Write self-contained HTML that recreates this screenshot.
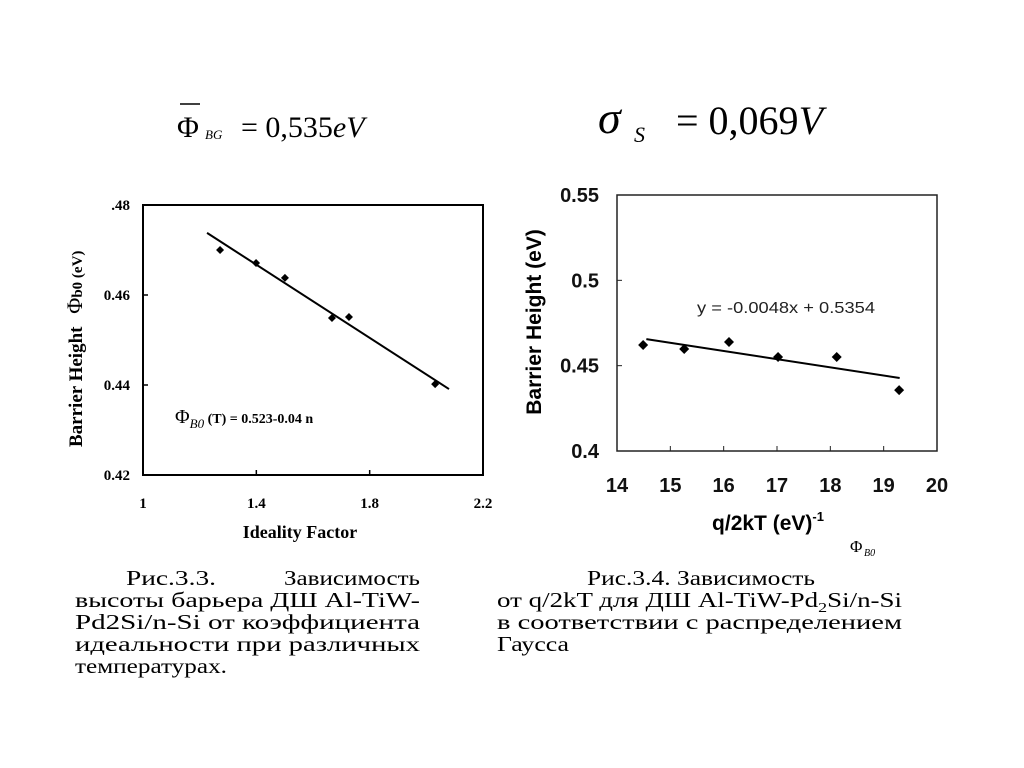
<!DOCTYPE html>
<html><head><meta charset="utf-8"><style>
html,body{margin:0;padding:0;background:#fff;width:1024px;height:768px;overflow:hidden}
svg{display:block}
</style></head><body>
<svg id="s" width="1024" height="768" xmlns="http://www.w3.org/2000/svg">
<g font-family="Liberation Serif, serif">
<line x1="180" y1="104" x2="200" y2="104" stroke="#000" stroke-width="1.5"/>
<text x="177" y="137" font-size="30">Φ</text>
<text x="205" y="139" font-size="13" font-style="italic">BG</text>
<text x="241" y="137" font-size="30">= 0,535<tspan font-style="italic">eV</tspan></text>
</g>
<g font-family="Liberation Serif, serif">
<text x="598" y="133" font-size="46" font-style="italic">σ</text>
<text x="634" y="142" font-size="22" font-style="italic">S</text>
<text x="676" y="134" font-size="40">= 0,069<tspan font-style="italic">V</tspan></text>
</g>
<g id="c1"></g>
<g id="c2"></g>
<g font-family="Liberation Serif, serif" font-size="21">
<text x="126" y="585" textLength="90" lengthAdjust="spacingAndGlyphs">Рис.3.3.</text>
<text x="284" y="585" textLength="136" lengthAdjust="spacingAndGlyphs">Зависимость</text>
<text x="75" y="607" textLength="345" lengthAdjust="spacingAndGlyphs">высоты барьера ДШ Al-TiW-</text>
<text x="75" y="629" textLength="345" lengthAdjust="spacingAndGlyphs">Pd2Si/n-Si    от коэффициента</text>
<text x="75" y="651" textLength="345" lengthAdjust="spacingAndGlyphs">идеальности при различных</text>
<text x="75" y="673" textLength="152" lengthAdjust="spacingAndGlyphs">температурах.</text>
</g>
<g font-family="Liberation Serif, serif" font-size="21">
<text x="587" y="585" textLength="228" lengthAdjust="spacingAndGlyphs">Рис.3.4. Зависимость</text>
<text x="497" y="607" textLength="405" lengthAdjust="spacingAndGlyphs">от  q/2kT для ДШ Al-TiW-Pd<tspan font-size="14" dy="5">2</tspan><tspan dy="-5">Si/n-Si</tspan></text>
<text x="497" y="629" textLength="405" lengthAdjust="spacingAndGlyphs">в  соответствии с распределением</text>
<text x="497" y="651" textLength="72" lengthAdjust="spacingAndGlyphs">Гаусса</text>
</g>
<g font-family="Liberation Serif, serif">
<text x="850" y="552" font-size="17">Φ</text><text x="864" y="556" font-size="10" font-style="italic">B0</text>
</g>
</svg>
<script>
// Chart 1 data
const c1X = [1.272, 1.399, 1.501, 1.667, 1.727, 2.031];
const c1Y = [0.4700, 0.4671, 0.4638, 0.4549, 0.4551, 0.4402];
const c1FitX = [1.226, 2.080];
const c1FitY = [0.4738, 0.4391];
const c1XTicks = [1, 1.4, 1.8, 2.2];
const c1XLabels = ["1", "1.4", "1.8", "2.2"];
const c1YTicks = [0.42, 0.44, 0.46, 0.48];
const c1YLabels = ["0.42", "0.44", "0.46", ".48"];
// Chart 2 data
const c2X = [14.49, 15.26, 16.10, 17.02, 18.12, 19.29];
const c2Y = [0.4621, 0.4598, 0.4639, 0.4551, 0.4551, 0.4357];
const c2Slope = -0.0048, c2Intercept = 0.5354;
const c2FitX = [14.55, 19.3];
const c2XTicks = [14, 15, 16, 17, 18, 19, 20];
const c2XLabels = ["14", "15", "16", "17", "18", "19", "20"];
const c2YTicks = [0.4, 0.45, 0.5, 0.55];
const c2YLabels = ["0.4", "0.45", "0.5", "0.55"];

const NS = "http://www.w3.org/2000/svg";
function mk(parent, tag, attrs, txt){
  const e = document.createElementNS(NS, tag);
  for (const k in attrs) e.setAttribute(k, attrs[k]);
  if (txt !== undefined) e.textContent = txt;
  parent.appendChild(e); return e;
}

// ---- Chart 1
(function(){
  const g = document.getElementById('c1');
  const L=143,R=483,T=205,B=475;
  const sx = v => L + (v-1)/(2.2-1)*(R-L);
  const sy = v => B - (v-0.42)/(0.48-0.42)*(B-T);
  const box = mk(g,'rect',{x:L,y:T,width:R-L,height:B-T,fill:'none',stroke:'#000','stroke-width':2});
  
  
  c1XTicks.forEach((v,i)=>{
    mk(g,'line',{x1:sx(v),x2:sx(v),y1:B,y2:B-5,stroke:'#000','stroke-width':1.5});
    const t = mk(g,'text',{x:sx(v),y:508,'text-anchor':'middle','font-size':15,'font-family':'Liberation Serif, serif','font-weight':'bold'},c1XLabels[i]);
    
    
  });
  c1YTicks.forEach((v,i)=>{
    mk(g,'line',{x1:L,x2:L+5,y1:sy(v),y2:sy(v),stroke:'#000','stroke-width':1.5});
    const t = mk(g,'text',{x:130,y:sy(v)+5,'text-anchor':'end','font-size':15,'font-family':'Liberation Serif, serif','font-weight':'bold'},c1YLabels[i]);
    
    
  });
  const fit = mk(g,'line',{x1:sx(c1FitX[0]),y1:sy(c1FitY[0]),x2:sx(c1FitX[1]),y2:sy(c1FitY[1]),stroke:'#000','stroke-width':2});
  
  
  c1X.forEach((x,i)=>{
    const cx=sx(x), cy=sy(c1Y[i]);
    const p = mk(g,'polygon',{points:`${cx},${cy-4} ${cx+4},${cy} ${cx},${cy+4} ${cx-4},${cy}`,fill:'#000'});
    
    
  });
  const xt = mk(g,'text',{x:300,y:538,'text-anchor':'middle','font-size':18,'font-family':'Liberation Serif, serif','font-weight':'bold'},'Ideality Factor');
  
  
  const yt = mk(g,'text',{transform:'translate(82,447) rotate(-90)','font-size':19,'font-family':'Liberation Serif, serif','font-weight':'bold'});
  
  
  yt.innerHTML = 'Barrier Height <tspan dx="8" font-weight="normal" font-size="22">Φ</tspan><tspan font-size="15">b0 (eV)</tspan>';
  const an = mk(g,'text',{x:175,y:423,'font-family':'Liberation Serif, serif','font-size':14,'font-weight':'bold'});
  
  
  an.innerHTML = '<tspan font-size="20" font-weight="normal">Φ</tspan><tspan font-size="13" font-weight="normal" font-style="italic" dy="5">B0</tspan><tspan dy="-5"> (T) = 0.523-0.04 n</tspan>';
})();

// ---- Chart 2
(function(){
  const g = document.getElementById('c2');
  const L=617,R=937,T=195,B=451;
  const sx = v => L + (v-14)/(20-14)*(R-L);
  const sy = v => B - (v-0.4)/(0.55-0.4)*(B-T);
  const box = mk(g,'rect',{x:L,y:T,width:R-L,height:B-T,fill:'none',stroke:'#222','stroke-width':1.5});
  
  
  c2XTicks.forEach((v,i)=>{
    mk(g,'line',{x1:sx(v),x2:sx(v),y1:B,y2:B-5,stroke:'#222','stroke-width':1});
    const t = mk(g,'text',{x:sx(v),y:492,'text-anchor':'middle','font-size':20,'font-family':'Liberation Sans, sans-serif','font-weight':'bold',fill:'#111'},c2XLabels[i]);
    
    
  });
  c2YTicks.forEach((v,i)=>{
    mk(g,'line',{x1:L,x2:L+5,y1:sy(v),y2:sy(v),stroke:'#222','stroke-width':1});
    const t = mk(g,'text',{x:599,y:sy(v)+7,'text-anchor':'end','font-size':20,'font-family':'Liberation Sans, sans-serif','font-weight':'bold',fill:'#111'},c2YLabels[i]);
    
    
  });
  const fit = mk(g,'line',{x1:sx(c2FitX[0]),y1:sy(c2Intercept+c2Slope*c2FitX[0]),x2:sx(c2FitX[1]),y2:sy(c2Intercept+c2Slope*c2FitX[1]),stroke:'#000','stroke-width':2});
  
  
  c2X.forEach((x,i)=>{
    const cx=sx(x), cy=sy(c2Y[i]);
    const p = mk(g,'polygon',{points:`${cx},${cy-5} ${cx+5},${cy} ${cx},${cy+5} ${cx-5},${cy}`,fill:'#000'});
    
    
  });
  const eq = mk(g,'text',{x:697,y:313,'font-size':16,'font-family':'Liberation Sans, sans-serif',fill:'#222',textLength:178,lengthAdjust:'spacingAndGlyphs'},'y = -0.0048x + 0.5354');
  
  
  const xt = mk(g,'text',{x:768,y:530,'text-anchor':'middle','font-size':21,'font-family':'Liberation Sans, sans-serif','font-weight':'bold'});
  
  
  xt.innerHTML = 'q/2kT (eV)<tspan font-size="13" dy="-9">-1</tspan>';
  const yt = mk(g,'text',{transform:'translate(541,322) rotate(-90)','text-anchor':'middle','font-size':21,'font-family':'Liberation Sans, sans-serif','font-weight':'bold'},'Barrier Height (eV)');
  
  
})();
</script>
</body></html>
